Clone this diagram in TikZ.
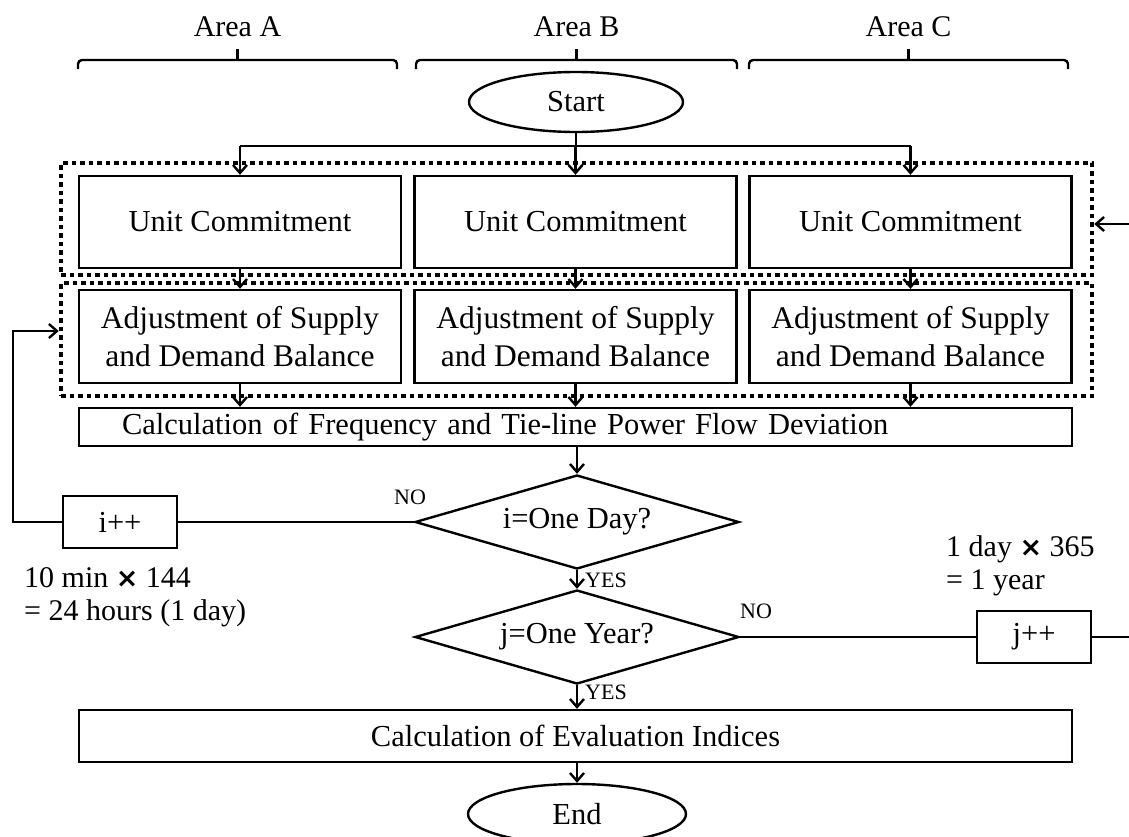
\documentclass[tikz,border=0pt]{standalone}
\usepackage{fontspec}
\setmainfont{Liberation Serif}
\newfontfamily\crossfont{DejaVu Sans}
\usetikzlibrary{arrows.meta,shapes.geometric}
\newcommand{\crossmark}{{\crossfont\bfseries\fontsize{27}{27}\selectfont ×}}
\begin{document}
\begin{tikzpicture}[x=1pt,y=-1pt,
  line width=2.4pt,
  every node/.style={inner sep=0pt, font=\fontsize{30.5}{37}\selectfont},
  box/.style={draw, rectangle, minimum width=322pt, minimum height=92pt, align=center},
  wide/.style={draw, rectangle, minimum width=993pt},
  term/.style={draw, ellipse, minimum width=214pt, minimum height=60pt},
  decision/.style={draw, diamond, aspect=3.3, minimum width=324pt, minimum height=94pt},
  counter/.style={draw, rectangle, minimum width=114pt, minimum height=52pt},
  group/.style={draw, rectangle, line width=4.5pt, dash pattern=on 4.5pt off 4pt, minimum width=1031pt},
  small/.style={font=\fontsize{22}{26}\selectfont},
  note/.style={align=left, anchor=west, font=\fontsize{30}{33}\selectfont},
  area/.style={font=\fontsize{30}{36}\selectfont},
  flow/.style={-{Straight Barb[length=8pt,width=14pt]}},
]
\useasboundingbox (0,0) rectangle (1129,836);

% area headings and their brackets
\node[area] (areaA) at (237.5,27) {Area A};
\node[area] (areaB) at (576.5,27) {Area B};
\node[area] (areaC) at (908.5,27) {Area C};
\foreach \l/\r in {78/397, 416/737, 749/1068}{
  \draw[rounded corners=4pt] (\l,69) -- (\l,60) -- (\r,60) -- (\r,69);
  \draw ({(\l+\r)/2},60) -- ({(\l+\r)/2},49);
}

% dotted groups
\node[group, minimum height=112pt] (grp1) at (576.5,219) {};
\node[group, minimum height=113pt] (grp2) at (576.5,339.5) {};

% terminals and process boxes
\node[term] (start) at (576,102) {Start};

\node[box] (ucA) at (240,222) {Unit Commitment};
\node[box] (ucB) at (575.5,222) {Unit Commitment};
\node[box] (ucC) at (910.5,222) {Unit Commitment};

\tikzset{adjust/.style={box, minimum height=93pt, font=\fontsize{31.5}{37.5}\selectfont}}
\node[adjust] (adjA) at (240,336.5) {Adjustment of Supply\\and Demand Balance};
\node[adjust] (adjB) at (575.5,336.5) {Adjustment of Supply\\and Demand Balance};
\node[adjust] (adjC) at (910.5,336.5) {Adjustment of Supply\\and Demand Balance};

\node[wide, minimum height=38pt, inner xsep=43pt, text width=907pt, align=left] (calc) at (575.5,427)
  {Calculation of Frequency and Tie-line Power Flow Deviation};

\node[decision] (di) at (577,522) {i=One Day?};
\node[decision] (dj) at (577,637) {j=One Year?};

\node[counter] (ip) at (120,522) {i++};
\node[counter] (jp) at (1034,637) {j++};

\node[wide, minimum height=52pt] (eval) at (575.5,736) {Calculation of Evaluation Indices};
\node[term, minimum width=218pt] (end) at (577,814) {End};

% labels
\node[small] (noI) at (410,497) {NO};
\node[small, anchor=west] (yesI) at (584,580) {YES};
\node[small] (noJ) at (756,611) {NO};
\node[small, anchor=west] (yesJ) at (584,692) {YES};
\node[note] (dayNote) at (23,597) {10 min \crossmark\ 144\\= 24 hours (1 day)};
\node[note] (yearNote) at (945,566) {1 day \crossmark\ 365\\= 1 year};

% connectors
\coordinate (split) at (576,146);
\draw (start) -- (split);
\draw (ucA.north |- split) -- (ucC.north |- split);
\foreach \c in {A,B,C}{
  \draw[flow] (uc\c.north |- split) -- (uc\c.north);
  \draw[flow] (uc\c.south) -- (adj\c.north);
  \draw[flow] (adj\c.south) -- (adj\c.south |- calc.north);
}
\draw[flow] (calc.south -| di.north) -- (di.north);
\draw[flow] (di.south) -- (dj.north);
\draw[flow] (dj.south) -- (eval.north -| dj.south);
\draw[flow] (eval.south -| end.north) -- (end.north);

\draw (di.west) -- (ip.east);
\coordinate (back) at (13,331);
\draw[flow] (ip.west) -| (back) -- (back -| grp2.west);

\draw (dj.east) -- (jp.west);
\coordinate (fwd) at (1145,224);
\draw[flow] (jp.east) -| (fwd) -- (fwd -| grp1.east);
\end{tikzpicture}
\end{document}
